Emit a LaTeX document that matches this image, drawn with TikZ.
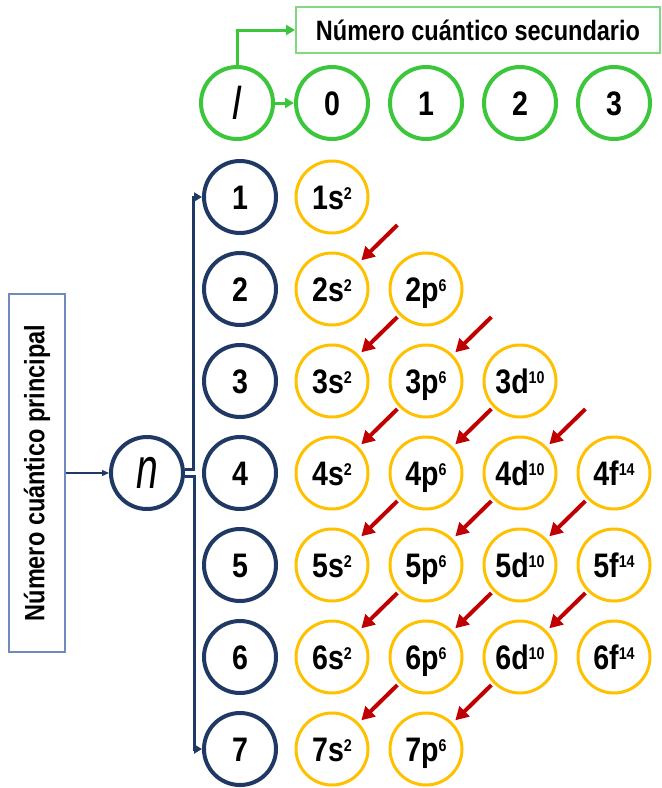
\documentclass[tikz,border=0pt]{standalone}
\usepackage{fontspec}
\setmainfont{Liberation Sans}[FakeStretch=0.84]
\usetikzlibrary{arrows.meta}
\definecolor{navy}{HTML}{1F3864}
\definecolor{lgreen}{HTML}{3CC63C}
\definecolor{pale}{HTML}{80D880}
\definecolor{gold}{HTML}{FFC000}
\definecolor{darkred}{HTML}{C00000}
\definecolor{slate}{HTML}{6F8BBE}
\newcommand\orbsup[1]{\raisebox{10pt}{\fontsize{17}{17}\selectfont #1}}

\begin{document}
\begin{tikzpicture}[
  x = 1pt, y = -1pt,
  ball/.style = {circle, inner sep = 0pt, minimum size = 72pt,
    text height = 24pt, text depth = 0pt,
    font = \fontsize{34}{34}\selectfont\bfseries},
  nball/.style = {ball, draw = navy, line width = 4pt},
  lball/.style = {ball, draw = lgreen, line width = 4pt},
  oball/.style = {ball, draw = gold, line width = 3pt},
  label box/.style = {draw, inner sep = 0pt,
    font = \fontsize{28}{28}\selectfont\bfseries},
  aufbau/.style = {draw = darkred, line width = 4pt,
    -{Triangle[length = 13pt, width = 14pt]},
    shorten <= 40pt, shorten >= 41pt}
  ]
  \useasboundingbox (0,0) rectangle (662,788);

  \node [label box, draw = pale, line width = 2pt, minimum width = 364pt,
    minimum height = 46pt] (sec) at (478,30) {Número cuántico secundario};
  \node [label box, draw = slate, line width = 1.5pt, rotate = 90,
    minimum width = 358pt, minimum height = 56pt] (prin) at (37,473)
    {Número cuántico principal};

  \node [lball, font = \fontsize{46}{46}\selectfont\itshape,
    text height = 33pt] (l) at (237,103) {l};
  \foreach \c in {0,...,3}
    \node [lball] (q\c) at (332+94*\c,103) {\c};

  \node [nball, font = \fontsize{58}{58}\selectfont\itshape,
    text height = 30pt] (n) at (147,473) {\scalebox{0.8}[1]{n}};
  \foreach \r in {1,...,7}
    \node [nball] (n\r) at (240,105+92*\r) {\r};

  \foreach \r/\last in {1/1,2/2,3/3,4/4,5/4,6/4,7/2}
    \foreach \c/\sh/\occ in {1/s/2,2/p/6,3/d/10,4/f/14} {
      \coordinate (g-\r-\c) at (238+94*\c,105+92*\r);
      \ifnum\c>\last\relax\else
        \node [oball] (\r\sh) at (g-\r-\c) {\r\sh\orbsup{\occ}};
      \fi
    }

  \foreach \r/\c in {2/1,3/1,3/2,4/1,4/2,4/3,5/1,5/2,5/3,6/1,6/2,6/3,7/1,7/2} {
    \pgfmathtruncatemacro\pr{\r-1}
    \pgfmathtruncatemacro\nc{\c+1}
    \draw [aufbau] (g-\pr-\nc) -- (g-\r-\c);
  }

  \draw [lgreen, line width = 3pt, -{Triangle[length = 9pt, width = 10pt]}]
    (l.north) |- (sec.west);
  \draw [lgreen, line width = 3pt, -{Triangle[length = 9pt, width = 10pt]}]
    (l) -- (q0);

  \draw [navy, line width = 3pt, -{Triangle[length = 8pt, width = 9pt]}]
    ([yshift = 4pt]n.east) -- ++(8,0) |- (n1.west);
  \draw [navy, line width = 3pt, -{Triangle[length = 8pt, width = 9pt]}]
    ([yshift = -3pt]n.east) -- ++(9,0) |- (n7.west);
  \draw [navy, line width = 1.2pt, -{Triangle[length = 7pt, width = 6pt]}]
    (prin) -- (n);
\end{tikzpicture}
\end{document}
